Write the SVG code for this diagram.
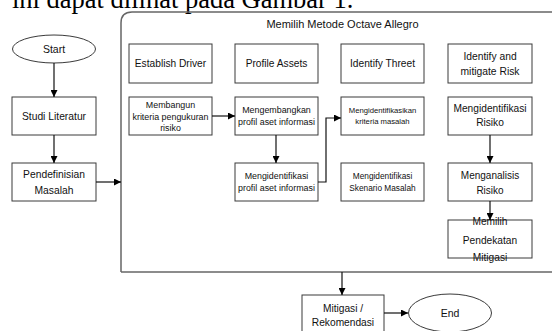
<svg xmlns="http://www.w3.org/2000/svg" width="552" height="331" viewBox="0 0 552 331">
<defs>
<marker id="ah" viewBox="0 0 10 10" refX="10" refY="5" markerWidth="7" markerHeight="7" markerUnits="userSpaceOnUse" orient="auto">
<path d="M0,0 L10,5 L0,10 z" fill="#000"/>
</marker>
</defs>
<style>
.b{fill:#fff;stroke:#3a3a3a;stroke-width:1}
.t{font-family:"Liberation Sans",Arial,sans-serif;fill:#111;text-anchor:middle}
.c{fill:none;stroke:#111;stroke-width:1.2;marker-end:url(#ah)}
</style>
<rect width="552" height="331" fill="#fff"/>
<text x="12" y="7.5" font-family="'Liberation Serif','Times New Roman',serif" font-size="26.5" fill="#000">ini dapat dilihat pada Gambar 1.</text>
<g id="container">
<path d="M121,272 V23 Q121,12 132,12 H560" fill="none" stroke="#666" stroke-width="1.5"/>
<path d="M121,272 H560" fill="none" stroke="#666" stroke-width="1.5"/>
<text class="t" x="342.5" y="28" font-size="11">Memilih Metode Octave Allegro</text>
</g>
<g id="start"><ellipse cx="54" cy="49" rx="41.5" ry="14" class="b"/><text class="t" x="54" y="53" font-size="10.5">Start</text></g>
<g id="studi"><rect x="12" y="97" width="84" height="38" class="b"/><text class="t" x="54" y="120" font-size="10.3">Studi Literatur</text></g>
<g id="pendefinisian"><rect x="12" y="163" width="84" height="38" class="b"/><text class="t" x="54" y="178" font-size="10.3">Pendefinisian</text><text class="t" x="54" y="194" font-size="10.3">Masalah</text></g>
<g id="establish"><rect x="129" y="44" width="83" height="39" class="b"/><text class="t" x="170.5" y="67" font-size="10.2">Establish Driver</text></g>
<g id="profile"><rect x="235" y="44" width="83" height="39" class="b"/><text class="t" x="276.5" y="67" font-size="10.2">Profile Assets</text></g>
<g id="threet"><rect x="341" y="44" width="83" height="39" class="b"/><text class="t" x="382.5" y="67" font-size="10.2">Identify Threet</text></g>
<g id="identify"><rect x="448" y="44" width="84" height="39" class="b"/><text class="t" x="490" y="60" font-size="10.3">Identify and</text><text class="t" x="490" y="75" font-size="10.3">mitigate Risk</text></g>
<g id="membangun"><rect x="129" y="97" width="83" height="38" class="b"/><text class="t" x="170.5" y="108" font-size="8.9">Membangun</text><text class="t" x="170.5" y="119.5" font-size="8.9">kriteria pengukuran</text><text class="t" x="170.5" y="131" font-size="8.9">risiko</text></g>
<g id="mengembangkan"><rect x="235" y="97" width="83" height="38" class="b"/><text class="t" x="276.5" y="113" font-size="8.9">Mengembangkan</text><text class="t" x="276.5" y="125" font-size="8.9">profil aset informasi</text></g>
<g id="mengidentifikasikan"><rect x="341" y="97" width="83" height="38" class="b"/><text class="t" x="382.5" y="113" font-size="7.7">Mengidentifikasikan</text><text class="t" x="382.5" y="124" font-size="7.7">kriteria masalah</text></g>
<g id="risiko"><rect x="448" y="97" width="84" height="38" class="b"/><text class="t" x="490" y="112" font-size="10.2">Mengidentifikasi</text><text class="t" x="490" y="126" font-size="10.2">Risiko</text></g>
<g id="profilaset"><rect x="235" y="163" width="83" height="38" class="b"/><text class="t" x="276.5" y="179" font-size="8.9">Mengidentifikasi</text><text class="t" x="276.5" y="191" font-size="8.9">profil aset informasi</text></g>
<g id="skenario"><rect x="341" y="163" width="83" height="38" class="b"/><text class="t" x="382.5" y="179" font-size="8.3">Mengidentifikasi</text><text class="t" x="382.5" y="191" font-size="8.3">Skenario Masalah</text></g>
<g id="menganalisis"><rect x="448" y="163" width="84" height="38" class="b"/><text class="t" x="490" y="179" font-size="10">Menganalisis</text><text class="t" x="490" y="194" font-size="10">Risiko</text></g>
<g id="memilih"><rect x="448" y="220" width="84" height="38" class="b"/><text class="t" x="490" y="225" font-size="10.2">Memilih</text><text class="t" x="490" y="243.5" font-size="10.2">Pendekatan</text><text class="t" x="490" y="261" font-size="10.2">Mitigasi</text></g>
<g id="mitigasi"><rect x="302" y="295" width="82" height="42" class="b"/><text class="t" x="343" y="312" font-size="10.2">Mitigasi /</text><text class="t" x="343" y="326" font-size="10.2">Rekomendasi</text></g>
<g id="end"><ellipse cx="450" cy="313" rx="41.5" ry="19" class="b"/><text class="t" x="450" y="317" font-size="10.5">End</text></g>
<g id="connectors">
<path class="c" d="M54,63 V97"/>
<path class="c" d="M54,135 V163"/>
<path class="c" d="M96,182 H121"/>
<path class="c" d="M212,116 H235"/>
<path class="c" d="M276,135 V163"/>
<path class="c" d="M318,182 H326 V118 H341"/>
<path class="c" d="M490,135 V163"/>
<path class="c" d="M490,201 V220"/>
<path class="c" d="M342,272 V295"/>
<path class="c" d="M384,313 H408"/>
</g>
</svg>
